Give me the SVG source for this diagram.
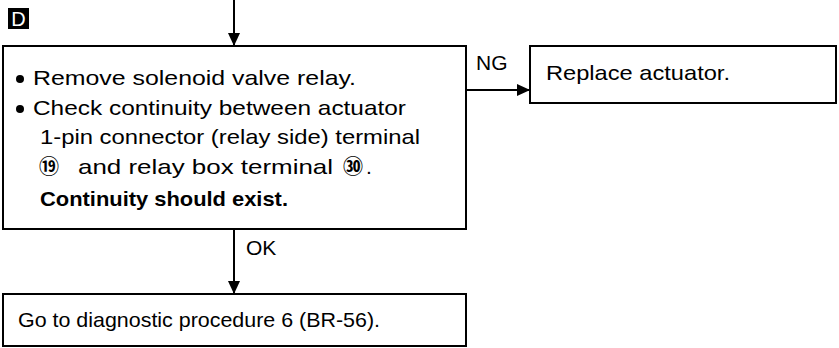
<svg xmlns="http://www.w3.org/2000/svg" width="839" height="348" viewBox="0 0 839 348">
<style>
.box{fill:#fff;stroke:#000;stroke-width:2}
.t{font-family:"Liberation Sans",Arial,"Noto Sans CJK JP",sans-serif;font-size:21px;fill:#000}
.b{font-weight:bold}
.c{font-family:"Noto Sans CJK JP","DejaVu Sans",sans-serif;font-size:20px;font-weight:bold}
.line{stroke:#000;stroke-width:2;fill:none}
</style>
<defs>
<marker id="ah" markerWidth="12" markerHeight="14" refX="13" refY="6" orient="auto" markerUnits="userSpaceOnUse">
<path d="M0,0 L13,6 L0,12 Z" fill="#000"/>
</marker>
</defs>
<g id="label-d">
<rect x="8" y="8" width="21" height="21" fill="#000"/>
<text x="18.5" y="26" text-anchor="middle" style="font-family:'Liberation Sans',Arial,sans-serif;font-size:20px;fill:#fff">D</text>
</g>
<g id="node-check">
<rect class="box" x="3" y="46" width="463" height="183"/>
<circle cx="20" cy="79" r="4"/>
<text class="t" x="33" y="85" textLength="323" lengthAdjust="spacingAndGlyphs">Remove solenoid valve relay.</text>
<circle cx="20" cy="109" r="4"/>
<text class="t" x="33" y="115" textLength="373" lengthAdjust="spacingAndGlyphs">Check continuity between actuator</text>
<text class="t" x="40" y="144" textLength="380" lengthAdjust="spacingAndGlyphs">1-pin connector (relay side) terminal</text>
<text class="t"><tspan class="c" x="39" y="174">⑲</tspan><tspan x="78" y="174" textLength="255" lengthAdjust="spacingAndGlyphs">and relay box terminal</tspan><tspan class="c" x="343" y="174">㉚</tspan><tspan x="366" y="174">.</tspan></text>
<text class="t b" x="40" y="206" textLength="248" lengthAdjust="spacingAndGlyphs">Continuity should exist.</text>
</g>
<g id="node-replace">
<rect class="box" x="530" y="46" width="306" height="57"/>
<text class="t" x="546" y="80" textLength="184" lengthAdjust="spacingAndGlyphs">Replace actuator.</text>
</g>
<g id="node-goto">
<rect class="box" x="3" y="294" width="463" height="52"/>
<text class="t" x="18" y="327" textLength="362" lengthAdjust="spacingAndGlyphs">Go to diagnostic procedure 6 (BR-56).</text>
</g>
<g id="connectors">
<line class="line" x1="234" y1="0" x2="234" y2="46" marker-end="url(#ah)"/>
<line class="line" x1="466" y1="90" x2="530" y2="90" marker-end="url(#ah)"/>
<line class="line" x1="234" y1="229" x2="234" y2="294" marker-end="url(#ah)"/>
<text class="t" x="476" y="70">NG</text>
<text class="t" x="246" y="255">OK</text>
</g>
</svg>
